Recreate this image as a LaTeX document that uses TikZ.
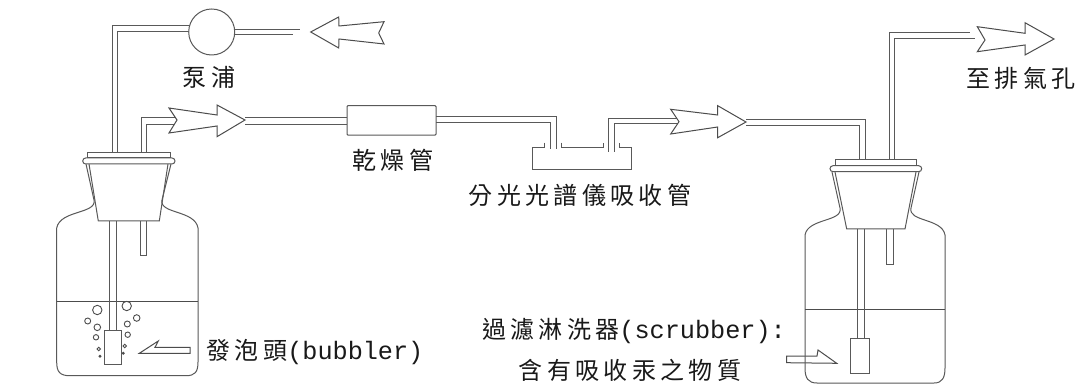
\documentclass[tikz,border=0pt]{standalone}
\usepackage{fontspec}
\newfontfamily\cjk[LetterSpace=18]{Noto Sans CJK TC}
\newfontfamily\latinf[Scale=1.05]{Liberation Mono}
\tikzset{
  part/.style={draw=black!65, line width=1pt},
  thin part/.style={draw=black!70, line width=0.9pt},
  hollow/.style={draw=black!70, fill=white, line width=1pt, line join=miter},
  label text/.style={font=\fontsize{24}{28}\selectfont\cjk, text=black!90, inner sep=0pt}
}

\begin{document}
\begin{tikzpicture}[x=1pt, y=-1pt]
\useasboundingbox (0, 0) rectangle (1083, 387);
% Background
\fill[white] (0, 0) rectangle (1083, 387);

% Pump Line
\draw[part] (112, 152) -- (112, 26) -- (190, 26);
\draw[part] (117.5, 152) -- (117.5, 32) -- (190, 32);
\draw[part] (233, 29.5) -- (300, 29.5);
\draw[part] (233, 34.5) -- (293, 34.5);
\node[circle, part, fill=white, minimum size=46, inner sep=0pt] (pump) at (211.7, 32) {};

% Inlet Line To Dryer
\draw[part] (141.7, 152) -- (141.7, 117.7) -- (178, 117.7);
\draw[part] (146.7, 152) -- (146.7, 124.3) -- (178, 124.3);
\draw[part] (245, 118) -- (348, 118);
\draw[part] (245, 125) -- (348, 125);
\node[rectangle, part, rounded corners=1, fill=white, minimum width=89, minimum height=29.5, inner sep=0pt] (dryer) at (391.5, 120.4) {};

% Dryer To Absorption Cell
\draw[part] (436, 116.7) -- (556.7, 116.7) -- (556.7, 149);
\draw[part] (436, 122.3) -- (550.7, 122.3) -- (550.7, 149);
\draw[part] (608, 151.7) -- (608, 118.3) -- (680, 118.3);
\draw[part] (614, 151.7) -- (614, 124) -- (680, 124);
\draw[part] (746, 120) -- (865, 120) -- (865, 160);
\draw[part] (746, 126) -- (859, 126) -- (859, 160);

% Absorption Cell
\draw[part] (544, 142.7) -- (544, 147.3) -- (532.7, 147.3) -- (532.7, 170) -- (631.7, 170) -- (631.7, 147.3) -- (619, 147.3) -- (619, 142.7);
\draw[part] (561, 142.7) -- (561, 147.3) -- (603, 147.3) -- (603, 142.7);

% Exhaust Line
\draw[part] (889, 160) -- (889, 32.3) -- (970, 32.3);
\draw[part] (894.3, 160) -- (894.3, 38.3) -- (975, 38.3);

% Flow Arrows
\draw[hollow] (310.7, 32) -- (338.7, 17) -- (339, 26) -- (384, 21.7) -- (378.7, 33) -- (384, 44) -- (339, 39) -- (338.7, 48) -- cycle;
\draw[hollow] (245, 120) -- (217, 105) -- (217, 115) -- (169, 108) -- (177, 120) -- (169, 133) -- (217, 126) -- (217, 136.7) -- cycle;
\draw[hollow] (746, 122) -- (717.7, 105.7) -- (717.7, 115) -- (670.7, 109.3) -- (679, 121.7) -- (670.7, 134) -- (717.7, 127) -- (717.7, 137.7) -- cycle;
\draw[hollow] (1054, 39) -- (1025, 22.7) -- (1025, 33.3) -- (977.3, 26.7) -- (985, 40) -- (977.3, 51.7) -- (1025, 45) -- (1025, 55) -- cycle;
\draw[hollow] (139.3, 353.3) -- (158.3, 341) -- (155, 347.3) -- (190, 347.3) -- (190, 353.3) -- cycle;
\draw[hollow] (786.7, 356) -- (817, 356) -- (818, 350) -- (836.7, 363.3) -- (786.7, 362.7) -- cycle;

% Left Bottle
\draw[part] (86, 164) -- (94, 200) .. controls (97, 214) and (60, 210) .. (56.7, 228) -- (56.7, 362) .. controls (56.7, 372) and (60, 375.7) .. (70, 375.7) -- (186, 375.7) .. controls (195, 375.7) and (198, 372) .. (198, 362) -- (198, 228) .. controls (195, 210) and (159, 214) .. (162, 200) -- (171, 164);
\draw[part] (89, 164) -- (98.3, 221) -- (159.3, 221) -- (168, 164);
\draw[part, rounded corners=3, fill=white] (82.7, 158) rectangle (175, 164);
\draw[part, fill=white] (87.7, 152.3) rectangle (170, 158);
\draw[thin part] (56.7, 301.7) -- (198, 301.7);
\draw[part] (109.3, 221) -- (109.3, 330);
\draw[part] (116.7, 221) -- (116.7, 330);
\draw[part, fill=white] (104, 330) rectangle (121.7, 364);
\draw[part] (140, 221) -- (140, 255.7) -- (146, 255.7) -- (146, 221);

% Bubbles
\foreach \bx/\by/\br in {97.3/310/4.7, 126.7/306/4.7, 87.7/321/3, 97.3/327.3/3.3, 96/337.3/2.7, 136.7/318/3.3, 127.3/324/3, 127.7/334.7/2.7, 98.7/349/1.7, 124.7/346/1.7, 100/356.3/1, 123.3/353.3/1} {
  \draw[thin part] (\bx, \by) circle (\br);
}

% Right Bottle
\draw[part] (832, 172) -- (840, 208) .. controls (843, 222) and (808, 218) .. (805, 235) -- (805, 368) .. controls (805, 378) and (808, 383) .. (817, 383) -- (934, 383) .. controls (942, 383) and (945, 378) .. (945, 368) -- (945, 235) .. controls (942, 218) and (908, 222) .. (911, 208) -- (919, 172);
\draw[part] (835, 172) -- (846.7, 229) -- (905, 229) -- (916, 172);
\draw[part, rounded corners=3, fill=white] (830, 165.7) rectangle (921.7, 171.7);
\draw[part, fill=white] (835, 160) rectangle (916.7, 165.7);
\draw[thin part] (805, 309) -- (945, 309);
\draw[part] (857.3, 229) -- (857.3, 338);
\draw[part] (864, 229) -- (864, 338);
\draw[part, fill=white] (850.7, 338) rectangle (869, 373);
\draw[part] (886.7, 229) -- (886.7, 264) -- (893.3, 264) -- (893.3, 229);

% Labels
\node[label text] (pumplabel) at (209, 77) {泵浦};
\node[label text] (dryerlabel) at (393, 160) {乾燥管};
\node[label text] (celllabel) at (580, 195) {分光光譜儀吸收管};
\node[label text] (ventlabel) at (1021, 78) {至排氣孔};
\node[label text] (bubblerlabel) at (315, 352) {發泡頭{\latinf (bubbler)}};
\node[label text] (scrubberlabel) at (634, 331) {過濾淋洗器{\latinf (scrubber):}};
\node[label text] (mediumlabel) at (630, 370) {含有吸收汞之物質};
\end{tikzpicture}
\end{document}
